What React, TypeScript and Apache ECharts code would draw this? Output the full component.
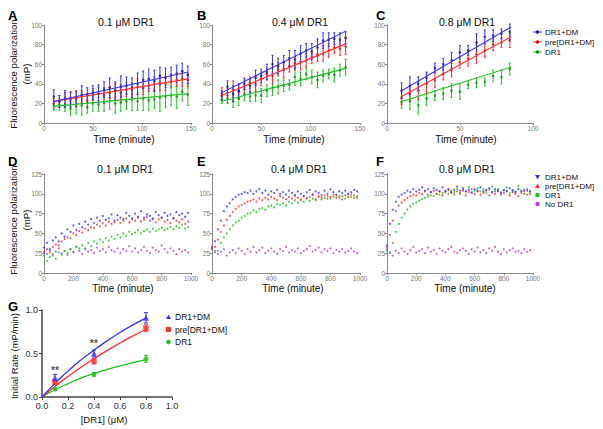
import React, { useEffect, useRef } from 'react';
import * as echarts from 'echarts';

const FONT = '"Liberation Sans", Arial, Helvetica, sans-serif';
const BLUE = '#3333ff';
const RED = '#ff3030';
const GREEN = '#22c022';
const PURPLE = '#b040e8';
const BLUE_D = '#1a1a9c';
const RED_D = '#d01818';
const GREEN_D = '#128a12';

// ---- Panels A-C: sampling times (minute)
const kinTimes = [10, 15.7, 21.4, 27.1, 32.8, 38.5, 44.2, 49.9, 55.6, 61.3, 67, 72.7, 78.4, 84.1, 89.8, 95.5, 101.2, 106.9, 112.6, 118.3, 124, 129.7, 135.4, 141.1, 146.8];

// Panel A (0.1 uM DR1)
const aBlue = [27, 22, 25, 24, 26, 29, 28, 31, 30, 34, 36, 33, 37, 38, 36, 40, 44, 45, 43, 48, 46, 49, 50, 53, 49];
const aBlueErr = [7, 6, 8, 7, 6, 9, 8, 7, 9, 8, 10, 9, 11, 9, 10, 11, 9, 10, 11, 9, 10, 8, 9, 8, 9];
const aRed = [20, 22, 24, 26, 25, 27, 23, 29, 30, 28, 31, 33, 31, 34, 35, 37, 36, 38, 40, 41, 40, 42, 44, 45, 44];
const aRedErr = [5, 6, 7, 6, 8, 6, 7, 6, 7, 8, 6, 7, 8, 7, 6, 8, 7, 6, 7, 8, 7, 6, 7, 8, 7];
const aGreen = [18, 19, 16, 15, 17, 18, 16, 20, 19, 21, 22, 20, 21, 22, 24, 22, 25, 23, 24, 26, 27, 28, 27, 32, 29];
const aGreenErr = [5, 6, 4, 7, 8, 10, 6, 8, 7, 9, 8, 10, 9, 8, 11, 9, 12, 10, 9, 14, 11, 10, 12, 9, 11];
const aFitBlue = [[10, 22], [147, 52]];
const aFitRed = [[10, 22], [147, 45]];
const aFitGreen = [[10, 17], [147, 30]];

// Panel B (0.4 uM DR1)
const bBlue = [28, 37, 30, 33, 40, 38, 46, 48, 52, 60, 58, 62, 66, 65, 71, 74, 73, 77, 84, 85, 86, 85, 87];
const bBlueErr = [5, 6, 8, 7, 6, 7, 8, 7, 8, 9, 8, 7, 8, 9, 8, 7, 8, 9, 8, 7, 6, 7, 6];
const bRed = [30, 28, 34, 32, 37, 41, 40, 45, 50, 48, 55, 54, 58, 61, 62, 64, 67, 70, 71, 74, 77, 76, 78];
const bRedErr = [6, 7, 9, 8, 7, 6, 8, 7, 6, 8, 7, 8, 6, 7, 8, 7, 6, 7, 8, 7, 6, 7, 8];
const bGreen = [24, 25, 22, 25, 29, 27, 28, 28, 33, 36, 37, 38, 39, 47, 45, 50, 47, 44, 48, 50, 49, 54, 57];
const bGreenErr = [4, 5, 6, 7, 6, 5, 6, 7, 6, 8, 7, 6, 5, 9, 7, 6, 7, 8, 6, 5, 7, 6, 8];
const bFitBlue = [[10, 31], [136, 94]];
const bFitRed = [[10, 28], [136, 81]];
const bFitGreen = [[10, 22], [136, 56]];

// Panel C (0.8 uM DR1)
const cBlue = [33, 38, 40, 46, 56, 60, 64, 72, 74, 82, 88, 89, 91, 93];
const cBlueErr = [8, 9, 7, 6, 5, 6, 8, 7, 5, 9, 7, 6, 5, 8];
const cRed = [26, 30, 33, 40, 44, 50, 54, 62, 66, 70, 74, 80, 82, 84];
const cRedErr = [7, 8, 9, 10, 8, 6, 7, 6, 8, 9, 7, 6, 5, 7];
const cGreen = [21, 22, 18, 25, 28, 30, 33, 32, 39, 41, 42, 48, 47, 55];
const cGreenErr = [6, 8, 9, 7, 5, 6, 7, 8, 4, 5, 4, 6, 7, 6];
const cFitBlue = [[10, 33], [85, 98]];
const cFitRed = [[10, 27], [85, 88]];
const cFitGreen = [[10, 22], [85, 57]];

// ---- Panels D-F: readings every 20 minutes
const scanStep = 20;
const dBlue = [32, 38, 30, 41, 45, 40, 50, 46, 55, 52, 60, 54, 62, 58, 65, 61, 68, 63, 70, 66, 72, 67, 69, 74, 66, 73, 70, 68, 76, 72, 69, 75, 71, 78, 70, 74, 72, 68, 77, 73, 70, 76, 72, 74, 69, 77, 73, 75, 71, 76];
const dRed = [27, 30, 26, 33, 36, 35, 40, 43, 45, 44, 50, 48, 53, 51, 56, 54, 58, 57, 61, 59, 63, 60, 65, 62, 64, 67, 63, 66, 69, 64, 68, 66, 70, 65, 67, 71, 66, 69, 64, 68, 70, 65, 67, 63, 69, 66, 64, 68, 62, 65];
const dGreen = [22, 15, 20, 24, 18, 26, 23, 28, 25, 30, 27, 33, 31, 35, 30, 38, 34, 40, 37, 42, 39, 44, 41, 46, 43, 48, 45, 50, 47, 52, 49, 51, 54, 50, 53, 55, 52, 56, 53, 55, 57, 54, 56, 58, 55, 59, 57, 61, 56, 58];
const dPurple = [26, 24, 29, 22, 27, 31, 25, 28, 23, 30, 26, 33, 28, 24, 31, 27, 29, 25, 32, 28, 30, 26, 33, 29, 27, 31, 25, 30, 28, 34, 27, 31, 26, 29, 33, 28, 25, 32, 29, 27, 35, 30, 26, 31, 28, 24, 30, 27, 29, 26];

const eBlue = [32, 40, 55, 66, 78, 84, 88, 93, 96, 99, 100, 102, 101, 104, 100, 103, 106, 101, 104, 99, 103, 101, 105, 100, 102, 99, 104, 101, 98, 103, 100, 97, 102, 105, 99, 103, 101, 98, 104, 100, 106, 102, 99, 103, 101, 104, 100, 102, 105, 103];
const eRed = [30, 33, 42, 52, 60, 67, 72, 77, 81, 84, 86, 88, 90, 91, 93, 90, 94, 92, 95, 93, 96, 94, 92, 97, 95, 93, 96, 94, 98, 95, 92, 97, 94, 96, 99, 93, 97, 95, 98, 94, 96, 99, 95, 97, 93, 98, 96, 99, 95, 97];
const eGreen = [30, 26, 28, 38, 45, 50, 55, 60, 64, 66, 70, 72, 75, 76, 79, 77, 81, 82, 80, 84, 85, 83, 87, 86, 88, 85, 90, 88, 92, 89, 93, 90, 95, 91, 94, 92, 96, 93, 95, 97, 94, 96, 98, 95, 97, 94, 99, 96, 98, 95];
const ePurple = [34, 28, 24, 27, 30, 22, 26, 29, 25, 31, 28, 24, 30, 27, 33, 26, 29, 32, 25, 28, 31, 27, 24, 30, 28, 33, 26, 29, 27, 31, 25, 28, 30, 34, 27, 29, 32, 26, 30, 28, 31, 25, 29, 27, 30, 26, 28, 31, 27, 25];

const fBlue = [35, 62, 80, 90, 96, 99, 101, 104, 102, 106, 103, 105, 108, 104, 106, 102, 107, 105, 103, 108, 104, 106, 102, 105, 109, 104, 107, 103, 105, 101, 106, 104, 108, 103, 105, 107, 102, 106, 104, 101, 105, 103, 107, 104, 102, 106, 103, 105, 104, 103];
const fRed = [33, 48, 66, 78, 85, 89, 92, 95, 97, 99, 98, 101, 100, 103, 99, 102, 104, 100, 103, 98, 102, 105, 101, 99, 103, 100, 104, 98, 102, 106, 100, 103, 99, 101, 104, 98, 102, 100, 103, 99, 101, 104, 98, 102, 100, 97, 101, 103, 99, 100];
const fGreen = [28, 25, 38, 52, 62, 70, 75, 80, 84, 87, 89, 91, 93, 95, 96, 98, 97, 100, 99, 101, 103, 100, 104, 102, 106, 101, 105, 103, 108, 102, 104, 107, 103, 106, 101, 105, 109, 103, 106, 102, 104, 108, 101, 105, 103, 110, 104, 100, 106, 103];
const fPurple = [30, 26, 22, 28, 25, 31, 27, 24, 29, 33, 26, 28, 30, 25, 32, 27, 29, 24, 31, 28, 26, 30, 33, 27, 25, 29, 31, 28, 24, 30, 27, 32, 26, 29, 25, 31, 28, 33, 27, 24, 30, 26, 29, 31, 27, 28, 25, 30, 27, 29];

// ---- Panel G: initial rates
const gConc = [0.1, 0.4, 0.8];
const gBlue = [0.22, 0.5, 0.91];
const gBlueErr = [0.04, 0.04, 0.06];
const gRed = [0.17, 0.41, 0.79];
const gRedErr = [0.02, 0.03, 0.04];
const gGreen = [0.09, 0.26, 0.44];
const gGreenErr = [0.015, 0.02, 0.04];
const gCurveX = [0, 0.1, 0.2, 0.3, 0.4, 0.5, 0.6, 0.7, 0.8];
const gCurveBlue = [0, 0.157, 0.298, 0.425, 0.54, 0.645, 0.741, 0.829, 0.91];
const gCurveRed = [0, 0.122, 0.235, 0.341, 0.44, 0.533, 0.62, 0.702, 0.779];
const gCurveGreen = [0, 0.083, 0.154, 0.216, 0.269, 0.316, 0.358, 0.395, 0.429];
const gSigX = [0.1, 0.4, 0.8];
const gSigY = [0.31, 0.62, 1.03];
const gSigText = ['**', '**', '*'];

const legendTop = ['DR1+DM', 'pre[DR1+DM]', 'DR1'];
const legendMid = ['DR1+DM', 'pre[DR1+DM]', 'DR1', 'No DR1'];
const panelTitles = ['0.1 \u03bcM DR1', '0.4 \u03bcM DR1', '0.8 \u03bcM DR1'];

const withErr = (xs: number[], ys: number[], es: number[]) => ys.map((y, i) => [xs[i], y, es[i]]);
const pairs = (xs: number[], ys: number[]) => ys.map((y, i) => [xs[i], y]);
const scan = (ys: number[]) => ys.map((y, i) => [i * scanStep, y]);

function errRender(cap: number) {
  return (params: any, api: any) => {
    const x = api.value(0);
    const y = api.value(1);
    const e = api.value(2);
    const top = api.coord([x, y + e]);
    const bot = api.coord([x, y - e]);
    const style = { stroke: api.visual('color'), lineWidth: 1 };
    const children: any[] = [
      { type: 'line', shape: { x1: top[0], y1: top[1], x2: bot[0], y2: bot[1] }, style },
    ];
    if (cap > 0) {
      children.push({ type: 'line', shape: { x1: top[0] - cap, y1: top[1], x2: top[0] + cap, y2: top[1] }, style });
      children.push({ type: 'line', shape: { x1: bot[0] - cap, y1: bot[1], x2: bot[0] + cap, y2: bot[1] }, style });
    }
    return { type: 'group', children };
  };
}

export default function App() {
  const ref = useRef<HTMLDivElement>(null);

  useEffect(() => {
    document.body.style.margin = '0';
    if (!ref.current) return;
    const chart = echarts.init(ref.current, undefined, { renderer: 'svg' });

    const grids = [
      { left: 44, top: 25, width: 147, height: 98 },
      { left: 212, top: 25, width: 148, height: 98 },
      { left: 387, top: 25, width: 146, height: 98 },
      { left: 44, top: 174, width: 147, height: 99 },
      { left: 212, top: 174, width: 148, height: 99 },
      { left: 387, top: 174, width: 146, height: 99 },
      { left: 42, top: 310, width: 130, height: 87 },
    ];

    const axisBase = (gi: number, min: number, max: number, interval: number, dark = false) => ({
      type: 'value',
      gridIndex: gi,
      min,
      max,
      interval,
      axisLine: { show: true, onZero: false, lineStyle: { color: dark ? '#444' : '#8a8a8a', width: dark ? 1.5 : 1 } },
      axisTick: { show: true, length: dark ? 3 : 2, lineStyle: { color: dark ? '#444' : '#8a8a8a' } },
      axisLabel: {
        fontSize: dark ? 9 : 6.5,
        color: dark ? '#333' : '#777',
        margin: dark ? 4 : 2,
        fontFamily: FONT,
        formatter: dark ? (v: number) => v.toFixed(1) : (v: number) => String(v),
      },
      splitLine: { show: false },
    });

    const xAxis = [
      axisBase(0, 0, 150, 50),
      axisBase(1, 0, 150, 50),
      axisBase(2, 0, 100, 50),
      axisBase(3, 0, 1000, 200),
      axisBase(4, 0, 1000, 200),
      axisBase(5, 0, 1000, 200),
      axisBase(6, 0, 1, 0.2, true),
    ];
    const yAxis = [
      axisBase(0, 0, 100, 20),
      axisBase(1, 0, 100, 20),
      axisBase(2, 0, 100, 20),
      axisBase(3, 0, 125, 25),
      axisBase(4, 0, 125, 25),
      axisBase(5, 0, 125, 25),
      axisBase(6, 0, 1, 0.5, true),
    ];

    const series: any[] = [];
    const kinPanel = (gi: number, sets: any[]) => {
      sets.forEach((s) => {
        series.push({
          type: 'custom', xAxisIndex: gi, yAxisIndex: gi, renderItem: errRender(1),
          itemStyle: { color: s.bar, opacity: 0.7 }, data: withErr(kinTimes, s.y, s.e), z: 2,
        });
      });
      sets.forEach((s) => {
        series.push({
          type: 'scatter', xAxisIndex: gi, yAxisIndex: gi, symbol: 'circle', symbolSize: 2.6,
          itemStyle: { color: s.pt }, data: pairs(kinTimes, s.y), z: 3,
        });
      });
      sets.forEach((s) => {
        series.push({
          type: 'line', xAxisIndex: gi, yAxisIndex: gi, showSymbol: false, symbol: 'none',
          lineStyle: { color: s.line, width: 1.1 }, data: s.fit, z: 4,
        });
      });
    };
    kinPanel(0, [
      { y: aGreen, e: aGreenErr, fit: aFitGreen, bar: GREEN, pt: GREEN_D, line: GREEN },
      { y: aRed, e: aRedErr, fit: aFitRed, bar: RED, pt: RED_D, line: RED },
      { y: aBlue, e: aBlueErr, fit: aFitBlue, bar: BLUE, pt: BLUE_D, line: BLUE },
    ]);
    kinPanel(1, [
      { y: bGreen, e: bGreenErr, fit: bFitGreen, bar: GREEN, pt: GREEN_D, line: GREEN },
      { y: bRed, e: bRedErr, fit: bFitRed, bar: RED, pt: RED_D, line: RED },
      { y: bBlue, e: bBlueErr, fit: bFitBlue, bar: BLUE, pt: BLUE_D, line: BLUE },
    ]);
    kinPanel(2, [
      { y: cGreen, e: cGreenErr, fit: cFitGreen, bar: GREEN, pt: GREEN_D, line: GREEN },
      { y: cRed, e: cRedErr, fit: cFitRed, bar: RED, pt: RED_D, line: RED },
      { y: cBlue, e: cBlueErr, fit: cFitBlue, bar: BLUE, pt: BLUE_D, line: BLUE },
    ]);

    const scanPanel = (gi: number, sets: { y: number[]; c: string }[]) => {
      sets.forEach((s) => {
        series.push({
          type: 'scatter', xAxisIndex: gi, yAxisIndex: gi, symbol: 'circle', symbolSize: 2,
          itemStyle: { color: s.c }, data: scan(s.y), z: 3,
        });
      });
    };
    scanPanel(3, [{ y: dPurple, c: PURPLE }, { y: dGreen, c: GREEN }, { y: dRed, c: RED }, { y: dBlue, c: BLUE }]);
    scanPanel(4, [{ y: ePurple, c: PURPLE }, { y: eGreen, c: GREEN }, { y: eRed, c: RED }, { y: eBlue, c: BLUE }]);
    scanPanel(5, [{ y: fPurple, c: PURPLE }, { y: fGreen, c: GREEN }, { y: fRed, c: RED }, { y: fBlue, c: BLUE }]);

    // Panel G
    const gSets = [
      { curve: gCurveGreen, y: gGreen, e: gGreenErr, c: GREEN, sym: 'circle', size: 5 },
      { curve: gCurveRed, y: gRed, e: gRedErr, c: RED, sym: 'rect', size: 5.5 },
      { curve: gCurveBlue, y: gBlue, e: gBlueErr, c: BLUE, sym: 'triangle', size: 6 },
    ];
    gSets.forEach((s) => {
      series.push({
        type: 'line', xAxisIndex: 6, yAxisIndex: 6, smooth: true, showSymbol: false, symbol: 'none',
        lineStyle: { color: s.c, width: 1.3 }, data: pairs(gCurveX, s.curve), z: 2,
      });
      series.push({
        type: 'custom', xAxisIndex: 6, yAxisIndex: 6, renderItem: errRender(2),
        itemStyle: { color: s.c }, data: withErr(gConc, s.y, s.e), z: 3,
      });
      series.push({
        type: 'scatter', xAxisIndex: 6, yAxisIndex: 6, symbol: s.sym, symbolSize: s.size,
        itemStyle: { color: s.c }, data: pairs(gConc, s.y), z: 4,
      });
    });
    series.push({
      type: 'scatter', xAxisIndex: 6, yAxisIndex: 6, symbolSize: 0,
      data: gSigX.map((x, i) => ({ value: [x, gSigY[i]], label: { formatter: gSigText[i] } })),
      label: { show: true, position: 'inside', color: '#222', fontSize: 10, fontWeight: 'bold', fontFamily: FONT },
      z: 5,
    });

    // Texts and legends
    const txt = (text: string, x: number, y: number, extra: any = {}) => ({
      type: 'text', x, y,
      style: { text, fontSize: 10.5, fontFamily: FONT, fill: '#111', align: 'center', verticalAlign: 'middle', ...extra },
    });
    const graphic: any[] = [];
    [['A', 8, 15], ['B', 197, 15], ['C', 376, 15], ['D', 8, 161], ['E', 197, 161], ['F', 376, 161], ['G', 8, 306]].forEach(
      ([t, x, y]: any) => graphic.push(txt(t, x, y, { fontSize: 13, fontWeight: 'bold', align: 'left', fill: '#000' })),
    );
    const titleX = [126, 300, 467];
    panelTitles.forEach((t, i) => {
      graphic.push(txt(t, titleX[i], 22));
      graphic.push(txt(t, titleX[i] - (i === 2 ? 0 : 1), 169));
    });
    const xTitleX = [124, 294, 466];
    xTitleX.forEach((x) => {
      graphic.push(txt('Time (minute)', x, 139, { fontSize: 10 }));
      graphic.push(txt('Time (minute)', x - 1, 288, { fontSize: 10 }));
    });
    [74, 220].forEach((cy) => {
      graphic.push({ ...txt('Fluorescence polarization', 0, 0, { fontSize: 9.6 }), x: 13, y: cy, rotation: Math.PI / 2 });
      graphic.push({ ...txt('(mP)', 0, 0, { fontSize: 9.6 }), x: 26, y: cy, rotation: Math.PI / 2 });
    });
    graphic.push({ ...txt('Initial Rate (mP/min)', 0, 0, { fontSize: 9.5 }), x: 14, y: 356, rotation: Math.PI / 2 });
    graphic.push(txt('[DR1] (\u03bcM)', 104, 419, { fontSize: 9.5 }));

    // Legend A-C
    const topCols = [BLUE, RED, GREEN];
    const topPts = [BLUE_D, RED_D, GREEN_D];
    legendTop.forEach((name, i) => {
      const y = 32 + i * 10;
      graphic.push({ type: 'line', shape: { x1: 533, y1: y, x2: 542, y2: y }, style: { stroke: topCols[i], lineWidth: 1 } });
      graphic.push({ type: 'circle', shape: { cx: 537.5, cy: y, r: 1.8 }, style: { fill: topPts[i] } });
      graphic.push(txt(name, 545, y, { fontSize: 8, align: 'left' }));
    });
    // Legend D-F
    const midCols = [BLUE, RED, GREEN, PURPLE];
    legendMid.forEach((name, i) => {
      const y = 177 + i * 9;
      const c = midCols[i];
      let shape: any;
      if (i === 0) shape = { type: 'polygon', shape: { points: [[535, y - 2], [540, y - 2], [537.5, y + 2.5]] }, style: { fill: c } };
      else if (i === 1) shape = { type: 'polygon', shape: { points: [[535, y + 2], [540, y + 2], [537.5, y - 2.5]] }, style: { fill: c } };
      else if (i === 2) shape = { type: 'rect', shape: { x: 535.5, y: y - 2, width: 4, height: 4 }, style: { fill: c } };
      else shape = { type: 'circle', shape: { cx: 537.5, cy: y, r: 2.2 }, style: { fill: c } };
      graphic.push(shape);
      graphic.push(txt(name, 545, y, { fontSize: 8, align: 'left' }));
    });
    // Legend G
    const gCols = [BLUE, RED, GREEN];
    legendTop.forEach((name, i) => {
      const y = 317 + i * 12.5;
      const c = gCols[i];
      let shape: any;
      if (i === 0) shape = { type: 'polygon', shape: { points: [[166, y + 2], [171, y + 2], [168.5, y - 2.5]] }, style: { fill: c } };
      else if (i === 1) shape = { type: 'rect', shape: { x: 166, y: y - 2.5, width: 5, height: 5 }, style: { fill: c } };
      else shape = { type: 'circle', shape: { cx: 168.5, cy: y, r: 2.2 }, style: { fill: c } };
      graphic.push(shape);
      graphic.push(txt(name, 175, y, { fontSize: 8.5, align: 'left' }));
    });

    chart.setOption({
      animation: false,
      backgroundColor: '#ffffff',
      grid: grids,
      xAxis,
      yAxis,
      series,
      graphic,
    });
    return () => chart.dispose();
  }, []);

  return <div ref={ref} style={{ width: 603, height: 429 }} />;
}
